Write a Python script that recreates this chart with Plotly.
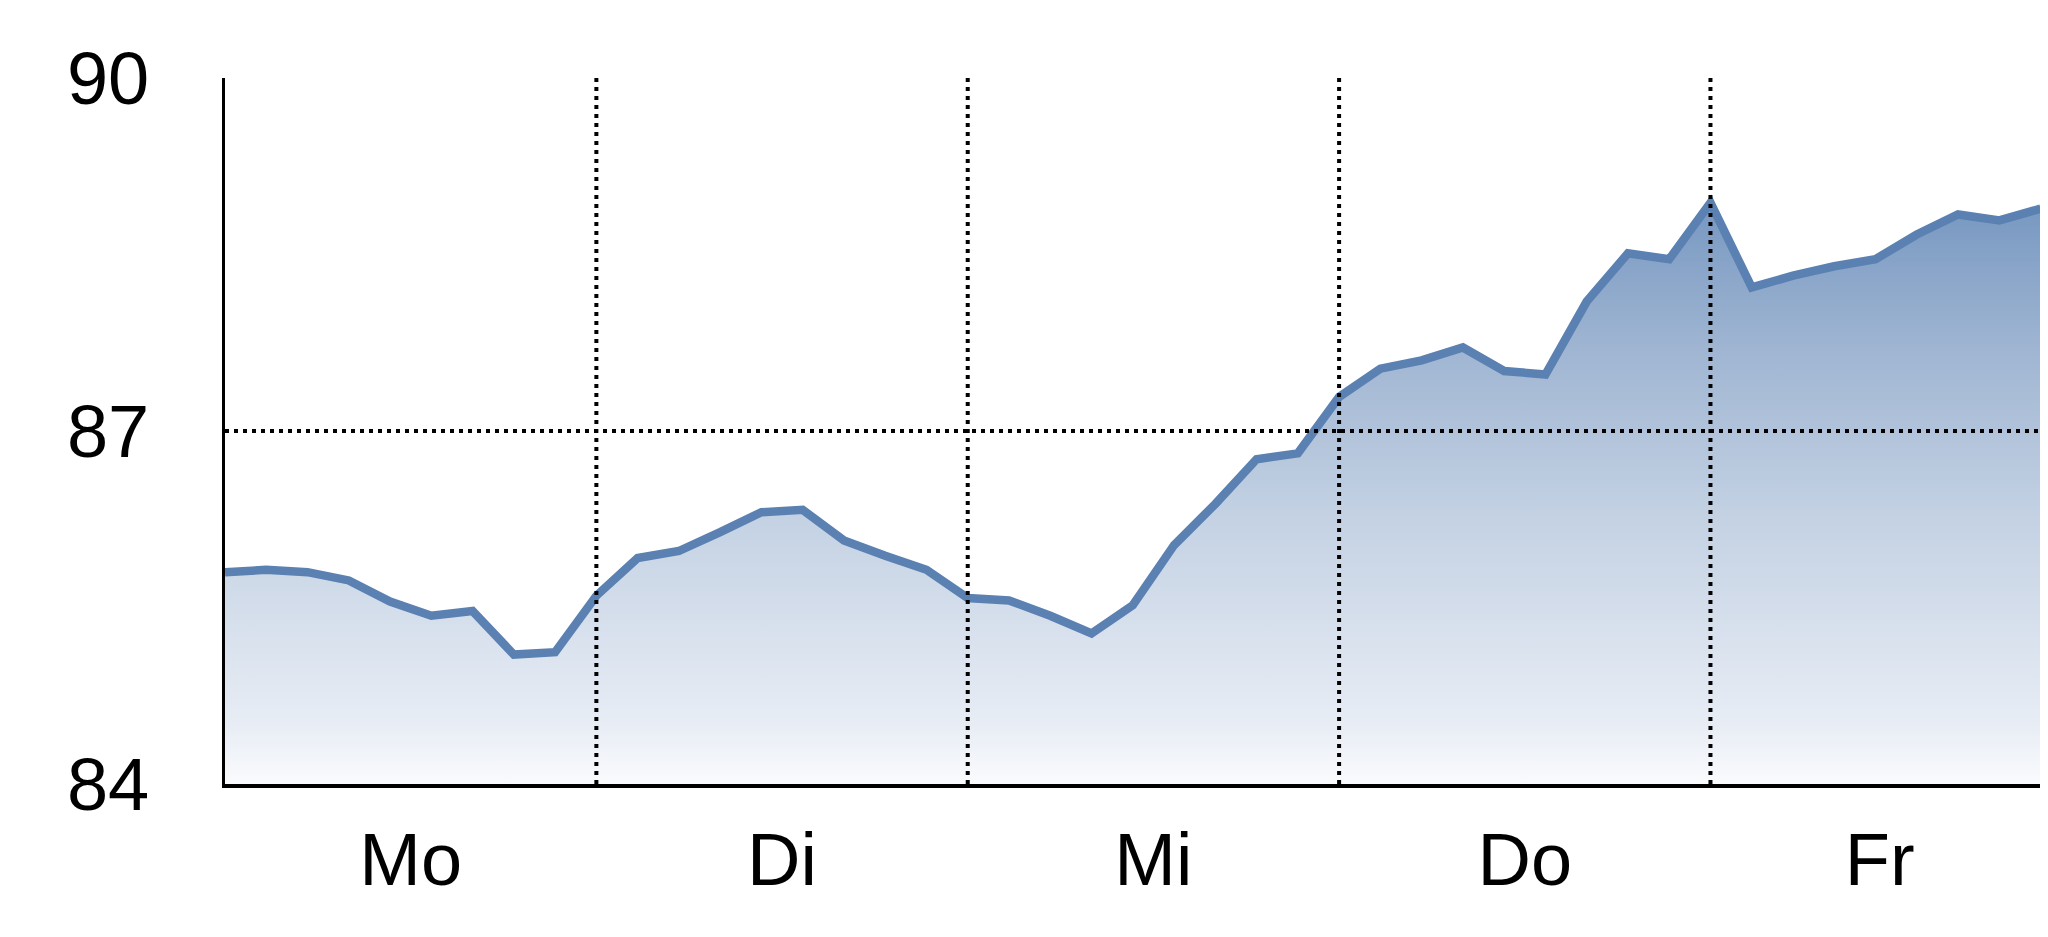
import plotly.graph_objects as go

# weekday labels and where they sit on the step axis
days = ["Mo", "Di", "Mi", "Do", "Fr"]
day_label_pos = [4.5, 13.5, 22.5, 31.5, 40.1]
day_bounds = [9, 18, 27, 36]

# readings, 9 per day
values = [
    85.80, 85.82, 85.80, 85.73, 85.55, 85.43, 85.47, 85.10, 85.12,
    85.60, 85.92, 85.98, 86.14, 86.31, 86.33, 86.07, 85.94, 85.82,
    85.58, 85.56, 85.43, 85.28, 85.52, 86.03, 86.38, 86.76, 86.81,
    87.29, 87.53, 87.60, 87.71, 87.51, 87.48, 88.10, 88.51, 88.46,
    88.94, 88.22, 88.32, 88.40, 88.46, 88.67, 88.84, 88.79, 88.89,
]
steps = list(range(len(values)))

y_ticks = [84, 87, 90]
y_grid = [87]
x_range = [0, 44.18]
y_range = [84, 90]

fig = go.Figure()

fig.add_trace(go.Scatter(
    x=steps,
    y=values,
    mode="lines",
    line=dict(color="#5a81b2", width=8.5),
    fill="tozeroy",
    fillgradient=dict(
        type="vertical",
        colorscale=[
            [0.0, "rgb(250,251,253)"],
            [0.083, "rgb(232,237,245)"],
            [0.383, "rgb(195,209,227)"],
            [0.617, "rgb(159,181,210)"],
            [0.833, "rgb(117,150,192)"],
            [1.0, "rgb(90,128,178)"],
        ],
        start=84,
        stop=90,
    ),
    showlegend=False,
    hoverinfo="x+y",
))

dot = dict(color="black", width=4, dash="4px,5px")

for b in day_bounds:
    fig.add_shape(type="line", xref="x", yref="y",
                  x0=b, x1=b, y0=y_range[0], y1=y_range[1],
                  line=dot, layer="above")

for g in y_grid:
    fig.add_shape(type="line", xref="paper", yref="y",
                  x0=0, x1=1, y0=g, y1=g,
                  line=dot, layer="above")

tick_font = dict(family="Liberation Sans Narrow, Liberation Sans, Arial, sans-serif",
                 size=74, color="black")

# page body adds 8px, so the figure is a touch smaller than the window
fig.update_layout(
    width=2040,
    height=929,
    margin=dict(l=217, r=0, t=70, b=153),
    paper_bgcolor="white",
    plot_bgcolor="white",
    xaxis=dict(
        range=x_range,
        tickmode="array",
        tickvals=day_label_pos,
        ticktext=days,
        tickfont=tick_font,
        ticks="",
        ticklabelstandoff=8,
        showgrid=False,
        zeroline=False,
        showline=True,
        linecolor="black",
        linewidth=3.5,
        layer="above traces",
        automargin=False,
    ),
    yaxis=dict(
        range=y_range,
        tickmode="array",
        tickvals=y_ticks,
        ticktext=[str(t) for t in y_ticks],
        tickfont=tick_font,
        ticks="",
        ticklabelstandoff=58,
        showgrid=False,
        zeroline=False,
        showline=True,
        linecolor="black",
        linewidth=3,
        layer="above traces",
        automargin=False,
    ),
)

fig.write_html("out.html")
